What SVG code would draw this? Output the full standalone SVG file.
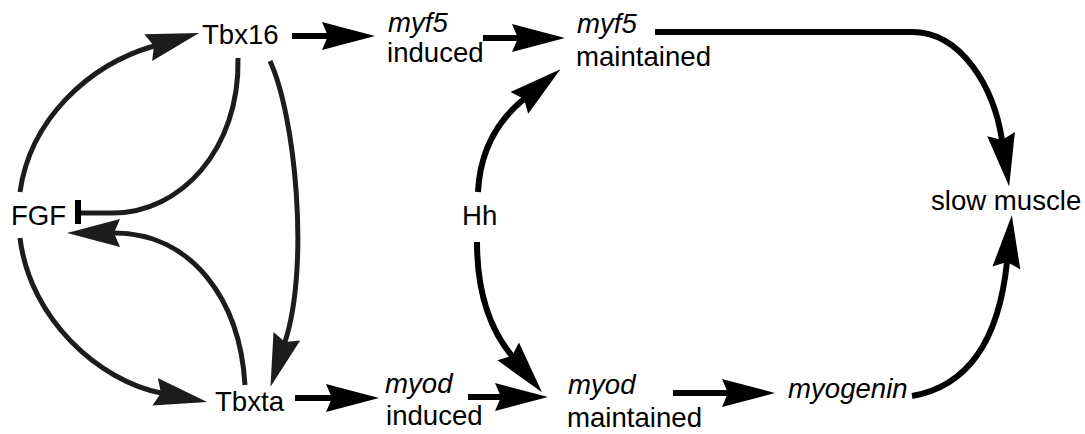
<svg xmlns="http://www.w3.org/2000/svg" width="1085" height="434" viewBox="0 0 1085 434">
<style>
text{font-family:"Liberation Sans",Arial,sans-serif;font-size:27.6px;fill:#000}
.it{font-style:italic}
.c{fill:none;stroke:#000;stroke-width:6}
.d{fill:none;stroke:#1c1c1c;stroke-width:5}
</style>
<defs>
<marker id="ah" markerUnits="userSpaceOnUse" markerWidth="60" markerHeight="30" refX="6" refY="14" orient="auto" viewBox="0 0 60 28" overflow="visible">
<path d="M0,0 L53,14 L0,28 L6,14 Z" fill="#000"/>
</marker>
<marker id="ahd" markerUnits="userSpaceOnUse" markerWidth="60" markerHeight="30" refX="6" refY="14" orient="auto" viewBox="0 0 60 28" overflow="visible">
<path d="M0,0 L53,14 L0,28 L6,14 Z" fill="#1c1c1c"/>
</marker>
</defs>
<g id="connectors">
<path class="c" d="M292,36 H328" marker-end="url(#ah)"/>
<path class="c" d="M483,38 H518" marker-end="url(#ah)"/>
<path class="c" d="M655,32 H912 C962,32 994,88 1002,140" marker-end="url(#ah)"/>
<path class="c" d="M912,396 C975,385 1000,330 1007,262" marker-end="url(#ah)"/>
<path class="c" d="M295,398 H332" marker-end="url(#ah)"/>
<path class="c" d="M468,397 H501" marker-end="url(#ah)"/>
<path class="c" d="M673,393 H728" marker-end="url(#ah)"/>
<path class="c" d="M478,192 C480,150 497,121 524,99" marker-end="url(#ah)"/>
<path class="c" d="M477,242 C477,290 488,327 512,356" marker-end="url(#ah)"/>
<path class="d" d="M270,61 C295,115 310,265 285,342" marker-end="url(#ahd)"/>
<path class="d" d="M20,192 C30,120 88,65 154,46" marker-end="url(#ahd)"/>
<path class="d" d="M245,385 C240,300 192,233 114,233" marker-end="url(#ahd)"/>
<path class="d" d="M20,238 C30,320 100,381 161,393" marker-end="url(#ahd)"/>
<path class="d" d="M238,58 C240,150 180,213 113,213 H80"/>
<line x1="78" y1="200" x2="78" y2="224" stroke="#000" stroke-width="6"/>
</g>
<g id="tbx16"><text x="202" y="44">Tbx16</text></g>
<g id="fgf"><text x="11" y="225">FGF</text></g>
<g id="tbxta"><text x="215" y="411">Tbxta</text></g>
<g id="myf5-induced"><text class="it" x="388" y="32">myf5</text><text x="387" y="62">induced</text></g>
<g id="myf5-maintained"><text class="it" x="577" y="33">myf5</text><text x="576" y="66">maintained</text></g>
<g id="myod-induced"><text class="it" x="385" y="393">myod</text><text x="386" y="425">induced</text></g>
<g id="myod-maintained"><text class="it" x="568" y="394">myod</text><text x="567" y="427">maintained</text></g>
<g id="myogenin"><text class="it" x="788" y="398">myogenin</text></g>
<g id="slow-muscle"><text x="931" y="210">slow muscle</text></g>
<g id="hh"><text x="462" y="225">Hh</text></g>
</svg>
